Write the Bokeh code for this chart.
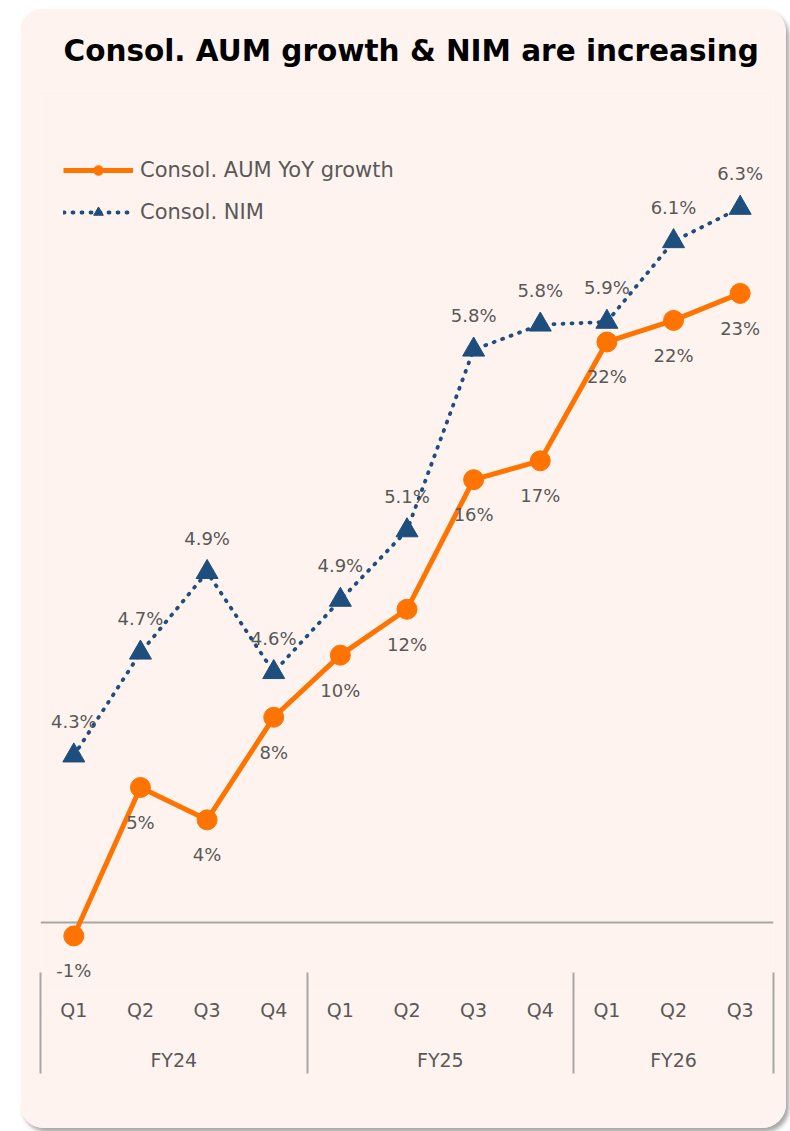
import numpy as np
from bokeh.plotting import figure
from bokeh.models import (Range1d, LinearAxis, FixedTicker, Span, LabelSet,
                          ColumnDataSource, Legend, LegendItem)
from bokeh.core.properties import value
from bokeh.embed import file_html
from bokeh.resources import INLINE

# ---------------- data ----------------
quarters = ["Q1", "Q2", "Q3", "Q4", "Q1", "Q2", "Q3", "Q4", "Q1", "Q2", "Q3"]
fiscal_years = ["FY24", "FY25", "FY26"]
quarters_per_year = [4, 4, 3]
aum_growth = [-0.5, 5.0, 3.8, 7.6, 9.9, 11.6, 16.4, 17.1, 21.5, 22.3, 23.3]
aum_labels = ["-1%", "5%", "4%", "8%", "10%", "12%", "16%", "17%", "22%", "22%", "23%"]
nim = [4.30, 4.67, 4.96, 4.60, 4.86, 5.11, 5.76, 5.85, 5.86, 6.15, 6.27]
nim_labels = ["4.3%", "4.7%", "4.9%", "4.6%", "4.9%", "5.1%", "5.8%", "5.8%", "5.9%", "6.1%", "6.3%"]

# ---------------- styles ----------------
BG = "#FEF3EE"
ORANGE = "#FF7300"
NAVY = "#1D4E7D"
GREY_TXT = "#595959"
GREY_LINE = "#A6A6A6"
FONT = "DejaVu Sans"

x = list(range(len(quarters)))
bounds = (np.concatenate([[0], np.cumsum(quarters_per_year)]) - 0.5).tolist()
centers = [(bounds[i] + bounds[i + 1]) / 2 for i in range(len(fiscal_years))]

p = figure(width=766, height=1120, output_backend="svg", toolbar_location=None,
           x_range=Range1d(-0.5, 10.5), y_range=Range1d(-2.52, 30.815),
           x_axis_type=None, y_axis_type=None,
           min_border_left=20, min_border_right=13, min_border_top=82, min_border_bottom=138,
           background_fill_color=BG, border_fill_color=BG, outline_line_color=None)
p.extra_y_ranges = {"nim": Range1d(3.455, 6.6925)}
p.margin = (8, 0, 0, 20)
p.styles = {"border-radius": "24px", "overflow": "hidden",
            "box-shadow": "3px 4px 4px rgba(0,0,0,0.35)"}

p.title.text = "Consol. AUM growth & NIM are increasing"
p.title.text_font = FONT
p.title.text_font_size = "29.5px"
p.title.text_font_style = "bold"
p.title.text_color = "#000000"
p.title.offset = 23
p.title.standoff = 46

# zero line
p.add_layout(Span(location=0, dimension="width", line_color=GREY_LINE,
                  line_width=2, level="underlay"))

src = ColumnDataSource(dict(x=x, aum=aum_growth, aum_label=aum_labels,
                            nim=nim, nim_label=nim_labels))

r_nim_line = p.line("x", "nim", source=src, y_range_name="nim", line_color=NAVY,
                    line_width=3.8, line_dash="1 8", line_cap="round")
r_nim_pts = p.scatter("x", "nim", source=src, y_range_name="nim", marker="triangle",
                      size=22, fill_color=NAVY, line_color=NAVY)
r_aum_line = p.line("x", "aum", source=src, line_color=ORANGE, line_width=5)
r_aum_pts = p.scatter("x", "aum", source=src, marker="circle", size=20,
                      fill_color=ORANGE, line_color=ORANGE)

p.add_layout(LabelSet(x="x", y="aum", text="aum_label", source=src, y_offset=-35,
                      text_align="center", text_baseline="middle", text_font=value(FONT),
                      text_font_size="18px", text_color=GREY_TXT))
p.add_layout(LabelSet(x="x", y="nim", text="nim_label", source=src, y_range_name="nim",
                      y_offset=34, text_align="center", text_baseline="middle",
                      text_font=value(FONT), text_font_size="18px", text_color=GREY_TXT))

# axes
q_axis = LinearAxis(ticker=FixedTicker(ticks=x),
                    major_label_overrides={i: q for i, q in zip(x, quarters)},
                    axis_line_color=None, major_tick_line_color=None,
                    minor_tick_line_color=None, major_tick_in=0, major_tick_out=0,
                    major_label_standoff=8, major_label_text_font=FONT,
                    major_label_text_font_size="19px", major_label_text_color=GREY_TXT)
p.add_layout(q_axis, "below")
fy_axis = LinearAxis(ticker=FixedTicker(ticks=centers),
                     major_label_overrides={c: fy for c, fy in zip(centers, fiscal_years)},
                     axis_line_color=None, major_tick_line_color=None,
                     minor_tick_line_color=None, major_tick_in=0, major_tick_out=0,
                     major_label_standoff=25, major_label_text_font=FONT,
                     major_label_text_font_size="19px", major_label_text_color=GREY_TXT)
p.add_layout(fy_axis, "below")
sep_axis = LinearAxis(ticker=FixedTicker(ticks=bounds),
                      major_label_overrides={b: "" for b in bounds},
                      axis_line_color=None, major_tick_line_color=GREY_LINE,
                      major_tick_line_width=2, minor_tick_line_color=None,
                      major_tick_in=101, major_tick_out=0, major_label_text_font_size="8px")
p.add_layout(sep_axis, "below")

legend = Legend(items=[LegendItem(label="Consol. AUM YoY growth", renderers=[r_aum_line, r_aum_pts]),
                       LegendItem(label="Consol. NIM", renderers=[r_nim_line, r_nim_pts])],
                location=(23, 766), orientation="vertical", glyph_width=70, glyph_height=24,
                label_height=24, label_standoff=7, spacing=18, padding=0, margin=0,
                border_line_color=None, background_fill_alpha=0, label_text_font=FONT,
                label_text_font_size="21px", label_text_color=GREY_TXT)
p.add_layout(legend)

open("out.html", "w").write(file_html(p, INLINE))
